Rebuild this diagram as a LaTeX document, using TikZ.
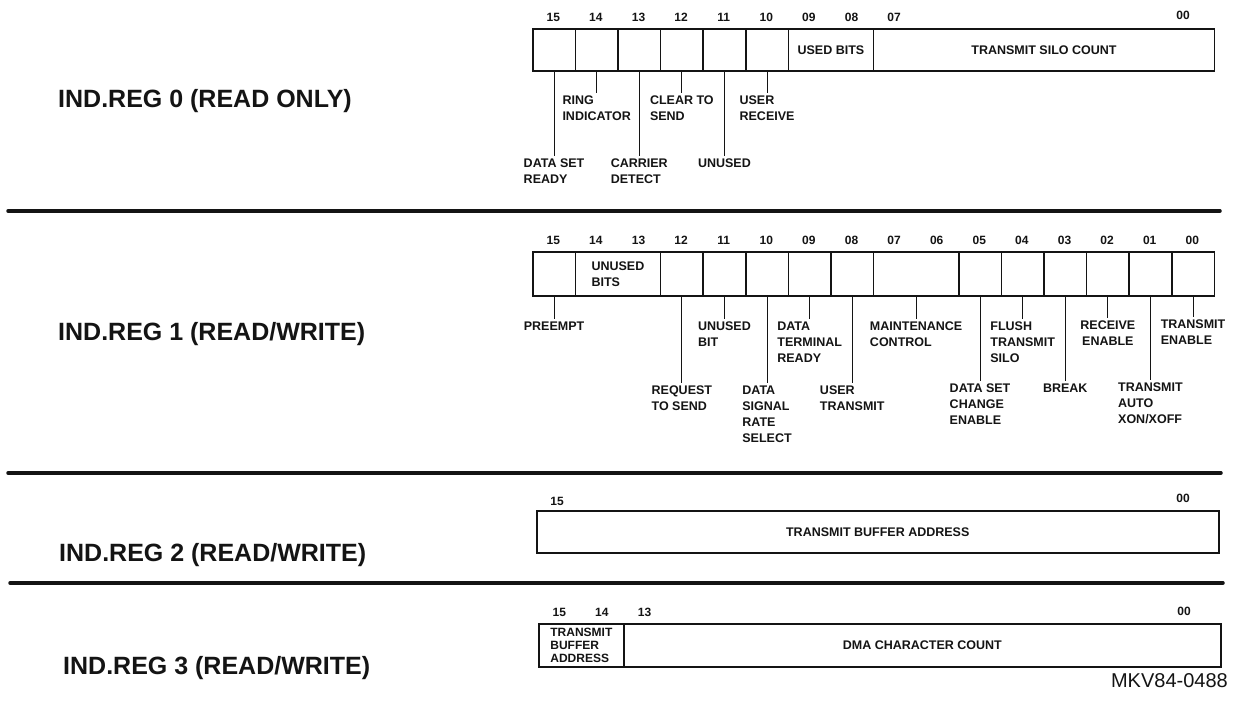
\documentclass[tikz,border=0pt]{standalone}
\usepackage{fontspec}
\setmainfont{Liberation Sans}
\usetikzlibrary{positioning}
\definecolor{ink}{HTML}{141414}
\definecolor{paper}{HTML}{FFFFFF}

\tikzset{
  cell/.style={draw=ink, line width=1.5pt, inner sep=0pt, anchor=north west, text=ink,
    font=\fontsize{12.5}{16}\selectfont\bfseries},
  bitnum/.style={anchor=base, inner sep=0pt, text=ink, font=\fontsize{12}{12}\selectfont\bfseries},
  field/.style={anchor=north, align=left, inner sep=3pt, outer sep=0pt, text=ink,
    font=\fontsize{12.5}{16}\selectfont\bfseries},
  lead/.style={draw=ink, line width=1.1pt},
  sepline/.style={draw=ink, line width=3.5pt, line cap=round},
  regtitle/.style={anchor=base west, inner sep=0pt, text=ink, font=\fontsize{25}{30}\selectfont\bfseries}
}

\begin{document}
\begin{tikzpicture}[x=1pt,y=-1pt]
\fill[paper] (0,0) rectangle (1241,707);
\useasboundingbox (0,0) rectangle (1241,707);

% Register 0
\node[regtitle] (t0) at (58,107) {IND.REG 0 (READ ONLY)};
\foreach \b/\i in {15/0,14/1,13/2,12/3,11/4,10/5}
  \node[cell, minimum width=42.6pt, minimum height=42pt] (r0c\b) at ({532+\i*42.6},28) {};
\node[cell, minimum width=85.2pt, minimum height=42pt] (r0c09) at ({532+6*42.6},28) {USED BITS};
\node[cell, minimum width=340.8pt, minimum height=42pt] (r0c07) at ({532+8*42.6},28) {TRANSMIT SILO COUNT};
\foreach \b/\i in {15/0,14/1,13/2,12/3,11/4,10/5,09/6,08/7,07/8}
  \node[bitnum] (n0-\b) at ({553.3+\i*42.6},21) {\b};
\node[bitnum] (n0-00) at (1183,19) {00};

\node[field] (r0l15) at (r0c15.south |- 0,156) {DATA SET\\READY};
\node[field] (r0l14) at (r0c14.south |- 0,93) {RING\\INDICATOR};
\node[field] (r0l13) at (r0c13.south |- 0,156) {CARRIER\\DETECT};
\node[field] (r0l12) at (r0c12.south |- 0,93) {CLEAR TO\\SEND};
\node[field] (r0l11) at (r0c11.south |- 0,156) {UNUSED};
\node[field] (r0l10) at (r0c10.south |- 0,93) {USER\\RECEIVE};
\foreach \b in {15,14,13,12,11,10}
  \draw[lead] (r0c\b.south) -- (r0l\b.north);

\draw[sepline] (8,211) -- (1220,211);

% Register 1
\node[regtitle] (t1) at (58,340) {IND.REG 1 (READ/WRITE)};
\foreach \b/\i in {15/0,12/3,11/4,10/5,09/6,08/7,05/10,04/11,03/12,02/13,01/14,00/15}
  \node[cell, minimum width=42.6pt, minimum height=44pt] (r1c\b) at ({532+\i*42.6},251) {};
\node[cell, minimum width=85.2pt, minimum height=44pt, align=left] (r1c14) at ({532+1*42.6},251) {UNUSED\\BITS};
\node[cell, minimum width=85.2pt, minimum height=44pt] (r1c07) at ({532+8*42.6},251) {};
\foreach \b [count=\i from 0] in {15,14,13,12,11,10,09,08,07,06,05,04,03,02,01,00}
  \node[bitnum] (n1-\b) at ({553.3+\i*42.6},244) {\b};

\node[field] (r1l15) at (r1c15.south |- 0,319) {PREEMPT};
\node[field] (r1l12) at (r1c12.south |- 0,383) {REQUEST\\TO SEND};
\node[field] (r1l11) at (r1c11.south |- 0,319) {UNUSED\\BIT};
\node[field] (r1l10) at (r1c10.south |- 0,383) {DATA\\SIGNAL\\RATE\\SELECT};
\node[field] (r1l09) at (r1c09.south |- 0,319) {DATA\\TERMINAL\\READY};
\node[field] (r1l08) at (r1c08.south |- 0,383) {USER\\TRANSMIT};
\node[field] (r1l07) at (r1c07.south |- 0,319) {MAINTENANCE\\CONTROL};
\node[field] (r1l05) at (r1c05.south |- 0,381) {DATA SET\\CHANGE\\ENABLE};
\node[field] (r1l04) at (r1c04.south |- 0,319) {FLUSH\\TRANSMIT\\SILO};
\node[field] (r1l03) at (r1c03.south |- 0,381) {BREAK};
\node[field, align=center] (r1l02) at (r1c02.south |- 0,318) {RECEIVE\\ENABLE};
\node[field] (r1l01) at (r1c01.south |- 0,380) {TRANSMIT\\AUTO\\XON/XOFF};
\node[field] (r1l00) at (r1c00.south |- 0,317) {TRANSMIT\\ENABLE};
\foreach \b in {15,12,11,10,09,08,07,05,04,03,02,01,00}
  \draw[lead] (r1c\b.south) -- (r1l\b.north);

\draw[sepline] (8,473) -- (1221,473);

% Register 2
\node[regtitle] (t2) at (59,561) {IND.REG 2 (READ/WRITE)};
\node[cell, minimum width=682pt, minimum height=42pt] (r2c15) at (536,510) {TRANSMIT BUFFER ADDRESS};
\node[bitnum] (n2-15) at (557,505) {15};
\node[bitnum] (n2-00) at (1183,502) {00};

\draw[sepline] (10,583) -- (1223,583);

% Register 3
\node[regtitle] (t3) at (63,674) {IND.REG 3 (READ/WRITE)};
\node[cell, minimum width=85.2pt, minimum height=43pt, align=left,
  font=\fontsize{12}{13}\selectfont\bfseries] (r3c15) at (538,623) {TRANSMIT\\BUFFER\\ADDRESS};
\node[cell, minimum width=596.8pt, minimum height=43pt] (r3c13) at (623.2,623) {DMA CHARACTER COUNT};
\foreach \b/\i in {15/0,14/1,13/2}
  \node[bitnum] (n3-\b) at ({559.3+\i*42.6},616) {\b};
\node[bitnum] (n3-00) at (1184,615) {00};

\node[anchor=base east, inner sep=0pt, text=ink, font=\fontsize{20}{20}\selectfont] (figid) at (1228,687) {MKV84-0488};
\end{tikzpicture}
\end{document}
